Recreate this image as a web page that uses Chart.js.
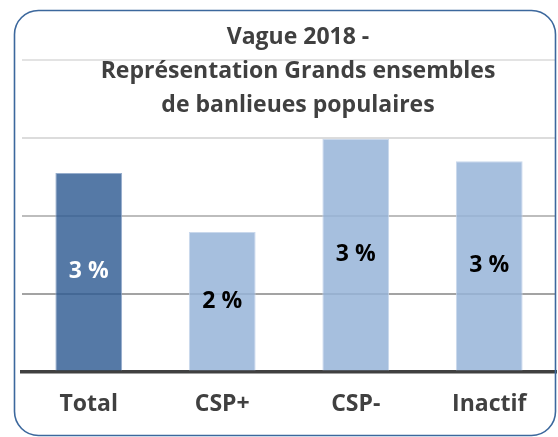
<!DOCTYPE html>
<html>
<head>
<meta charset="utf-8">
<script src="https://cdn.jsdelivr.net/npm/chart.js@4"></script>
<style>
    html, body { margin: 0; padding: 0; background: #fff; }
    canvas { display: block; }
</style>
</head>
<body>
<canvas id="chart" width="558" height="437"></canvas>
<script>
// Vague 2018 - bar chart, values in % (labels rounded as shown in the source)
const categories = ['Total', 'CSP+', 'CSP-', 'Inactif'];
const values = [2.55, 1.79, 2.99, 2.70];
const valueLabels = ['3 %', '2 %', '3 %', '3 %'];
const titleLines = ['Vague 2018 -', 'Représentation Grands ensembles', 'de banlieues populaires'];
const yMax = 4;

const FONT = '"Open Sans", sans-serif';
const barFill = ['rgba(48, 92, 146, 0.82)', 'rgba(150, 180, 216, 0.85)', 'rgba(150, 180, 216, 0.85)', 'rgba(150, 180, 216, 0.85)'];
const barEdge = ['rgba(140, 165, 200, 0.9)', 'rgba(195, 212, 234, 0.9)', 'rgba(195, 212, 234, 0.9)', 'rgba(195, 212, 234, 0.9)'];
const labelColors = ['#ffffff', '#000000', '#000000', '#000000'];
const gridColors = { 0: 'rgba(0,0,0,0)', 1: '#a3a3a3', 2: '#bdbdbd', 3: '#dcdcdc', 4: '#e3e3e3' };

// value labels centred inside each bar
const barLabels = {
    id: 'barLabels',
    afterDatasetsDraw(chart) {
        const ctx = chart.ctx;
        const meta = chart.getDatasetMeta(0);
        ctx.save();
        ctx.font = 'bold 23px ' + FONT;
        ctx.textAlign = 'center';
        ctx.textBaseline = 'middle';
        meta.data.forEach((bar, i) => {
            ctx.fillStyle = labelColors[i];
            ctx.fillText(valueLabels[i], bar.x, (bar.y + bar.base) / 2);
        });
        ctx.restore();
    }
};

// rounded frame and the three-line title drawn over the plot
const frameAndTitle = {
    id: 'frameAndTitle',
    afterDraw(chart) {
        const ctx = chart.ctx;
        ctx.save();
        ctx.strokeStyle = '#3c689d';
        ctx.lineWidth = 1.6;
        ctx.beginPath();
        ctx.roundRect(14.5, 10.5, 541, 425, 24);
        ctx.stroke();

        ctx.fillStyle = '#404040';
        ctx.font = 'bold 23px ' + FONT;
        ctx.textAlign = 'center';
        ctx.textBaseline = 'alphabetic';
        const baselines = [44, 78, 112];
        titleLines.forEach((line, i) => ctx.fillText(line, 298, baselines[i]));
        ctx.restore();
    }
};

new Chart(document.getElementById('chart'), {
    type: 'bar',
    data: {
        labels: categories,
        datasets: [{
            data: values,
            backgroundColor: barFill,
            borderColor: barEdge,
            borderWidth: 1,
            barPercentage: 0.5,
            categoryPercentage: 1
        }]
    },
    options: {
        responsive: false,
        animation: false,
        layout: { padding: { left: 22, right: 2, top: 60, bottom: 0 } },
        plugins: {
            legend: { display: false },
            title: { display: false },
            tooltip: { enabled: false }
        },
        scales: {
            x: {
                grid: { display: false, drawTicks: false },
                border: { display: true, color: '#404040', width: 3.5 },
                ticks: {
                    color: '#404040',
                    padding: 19,
                    font: { family: FONT, size: 23, weight: 'bold' }
                }
            },
            y: {
                min: 0,
                max: yMax,
                ticks: { display: false, stepSize: 1 },
                border: { display: false },
                grid: {
                    drawTicks: false,
                    lineWidth: 2,
                    color: c => gridColors[c.tick.value] || '#dcdcdc'
                }
            }
        }
    },
    plugins: [barLabels, frameAndTitle]
});
</script>
</body>
</html>
